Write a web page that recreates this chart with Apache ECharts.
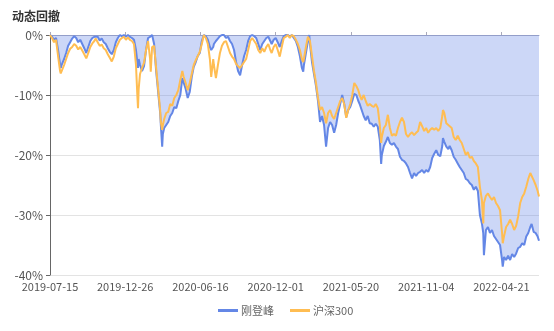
<!DOCTYPE html>
<html><head><meta charset="utf-8">
<script src="https://cdn.jsdelivr.net/npm/echarts@6/dist/echarts.min.js"></script>
<style>html,body{margin:0;padding:0;background:#fff}#c{width:554px;height:331px}</style>
</head><body><div id="c"></div>
<script>
// Trading calendar
const startDate = [2019, 6, 15];
const dayCount = 729;
const holidays = ['2019-09-13','2019-10-01','2019-10-02','2019-10-03','2019-10-04','2019-10-07',
'2020-01-01','2020-01-24','2020-01-27','2020-01-28','2020-01-29','2020-01-30','2020-01-31','2020-04-06',
'2020-05-01','2020-05-04','2020-05-05','2020-06-25','2020-06-26','2020-10-01','2020-10-02','2020-10-05',
'2020-10-06','2020-10-07','2020-10-08','2021-01-01','2021-02-11','2021-02-12','2021-02-15','2021-02-16',
'2021-02-17','2021-04-05','2021-05-03','2021-05-04','2021-05-05','2021-06-14','2021-09-20','2021-09-21',
'2021-10-01','2021-10-04','2021-10-05','2021-10-06','2021-10-07','2022-01-03','2022-01-31','2022-02-01',
'2022-02-02','2022-02-03','2022-02-04','2022-04-04','2022-04-05','2022-05-02','2022-05-03','2022-05-04','2022-06-03'];
const tickLabels = ['2019-07-15','2019-12-26','2020-06-16','2020-12-01','2021-05-20','2021-11-04','2022-04-21'];
const seriesNames = ['刚登峰', '沪深300'];

// sample points: trading-day number, drawdown (%)
const sampleDay = [0,3,6,9,12,15,16,18,21,24,27,30,33,36,39,42,45,48,51,54,57,60,63,66,68,71,74,77,80,83,86,89,92,95,98,101,104,107,110,113,116,119,122,125,128,130,131,132,134,137,140,143,146,149,150,152,155,158,161,164,165,167,168,170,173,176,179,182,185,188,191,194,197,199,202,205,208,211,214,217,220,223,226,229,232,235,238,240,241,243,244,247,250,253,256,259,262,265,268,271,274,277,280,283,286,289,292,295,298,301,304,307,310,313,316,319,322,325,328,330,333,336,339,342,345,348,351,354,357,360,363,366,369,372,375,377,378,381,384,386,387,390,393,396,399,402,405,408,411,414,417,420,423,426,429,432,435,438,441,444,447,450,453,456,459,461,464,467,470,473,476,479,482,485,488,491,493,494,497,500,503,506,509,512,515,518,521,524,527,530,533,536,539,542,545,548,551,554,557,560,563,566,569,572,575,578,581,584,585,587,590,593,595,598,601,604,607,610,613,616,619,622,625,628,631,634,637,640,643,645,646,649,652,655,658,661,664,667,670,673,674,676,679,682,685,688,691,694,697,700,703,706,709,712,715,717,720,723,726,728];
const gdf = [0,-0.3,-0.8,-0.5,-2.5,-5.0,-5.5,-4.8,-4.0,-3.0,-1.8,-1.2,-0.6,-0.2,-0.5,-1.2,-0.8,-1.5,-2.2,-3.0,-2.0,-1.0,-0.5,-0.3,0,-0.3,-0.9,-0.6,-1.2,-1.5,-2.2,-2.8,-3.2,-2.5,-1.2,-0.5,0,-0.2,0,-0.3,0,-0.3,-0.5,-0.8,-2.5,-4.5,-5.5,-4.0,-5.0,-6.0,-5.2,-2.5,-0.5,-0.3,0,0,-1.5,-6.0,-9.5,-13.0,-15.0,-18.6,-16.5,-15.5,-15.0,-14.5,-13.5,-13.0,-12.0,-12.2,-11.0,-10.0,-7.2,-7.5,-9.0,-10.5,-9.5,-7.0,-5.3,-4.5,-3.5,-3.0,-1.0,0,-0.2,-0.8,-2.0,-2.5,-2.5,-2.0,-1.5,-1.0,-0.6,-0.2,0,0,-0.5,-0.3,-1.0,-1.5,-2.5,-4.5,-6.0,-6.7,-5.0,-3.5,-2.5,-1.0,-0.2,0,-0.2,-0.5,-1.5,-2.5,-1.5,-1.0,-0.5,-0.3,-1.0,-1.5,-0.8,-0.5,-1.2,-2.0,-1.0,-0.2,0,0,-0.3,0,-0.5,-1.0,-2.0,-3.5,-5.5,-6.1,-5.0,-3.0,-1.0,0,-1.5,-4.5,-6.5,-8.5,-11.0,-14.5,-13.5,-15.0,-18.6,-15.5,-14.5,-15.0,-16.3,-15.0,-13.0,-11.5,-10.0,-11.5,-13.7,-12.5,-12.0,-11.0,-9.8,-10.0,-11.0,-11.5,-12.5,-13.5,-14.2,-13.5,-14.7,-14.8,-15.3,-14.8,-15.3,-17.5,-21.5,-20.0,-18.5,-17.8,-17.0,-18.0,-18.3,-18.0,-18.6,-19.0,-20.3,-20.8,-21.0,-21.4,-22.0,-23.0,-23.9,-23.0,-23.5,-23.0,-22.8,-22.5,-23.0,-22.5,-22.8,-22.0,-20.5,-19.8,-19.2,-20.0,-20.2,-18.5,-17.2,-17.8,-18.6,-19.0,-18.5,-19.2,-20.3,-20.8,-21.4,-22.0,-22.5,-23.0,-24.0,-24.2,-24.7,-25.0,-25.8,-25.3,-26.0,-30.0,-31.4,-33.0,-36.7,-32.5,-32.0,-33.0,-32.5,-33.5,-34.0,-34.5,-35.0,-37.5,-38.6,-37.0,-37.5,-36.8,-37.5,-36.5,-37.0,-36.4,-35.5,-35.3,-34.7,-35.0,-33.6,-33.0,-32.0,-31.5,-32.8,-33.0,-33.6,-34.3];
const hs300 = [0,-0.5,-1.2,-0.8,-3.5,-6.0,-6.4,-6.2,-5.0,-4.0,-3.0,-2.3,-2.0,-1.5,-1.8,-2.4,-2.0,-2.6,-3.2,-3.9,-3.0,-2.0,-1.4,-1.0,-0.6,-1.2,-1.8,-1.6,-2.2,-2.5,-3.2,-3.8,-4.4,-3.6,-2.2,-1.5,-0.8,-0.5,-0.3,-0.8,-0.4,-0.8,-1.0,-1.5,-5.0,-10.0,-12.2,-9.0,-6.5,-5.5,-4.6,-2.5,-1.0,-4.0,-6.1,-2.0,-1.8,-5.5,-9.0,-12.5,-14.5,-15.8,-15.0,-14.0,-13.0,-12.8,-11.5,-11.8,-10.5,-10.0,-9.2,-7.5,-6.0,-7.0,-8.0,-9.2,-8.0,-6.5,-5.0,-4.2,-3.5,-2.8,-1.5,0,-0.5,-1.5,-4.0,-7.0,-6.7,-4.0,-5.0,-7.2,-5.0,-3.0,-1.8,-1.2,-1.0,-2.0,-3.0,-3.6,-4.0,-4.8,-5.2,-5.5,-5.0,-4.5,-4.0,-2.5,-1.0,-0.5,-1.0,-1.5,-2.5,-3.0,-2.2,-2.8,-2.0,-1.5,-2.5,-3.0,-2.0,-1.5,-2.5,-3.6,-2.0,-0.5,-0.3,0,-0.5,0,-0.2,-0.8,-1.5,-2.5,-4.0,-4.5,-4.0,-2.0,-0.3,0,-1.0,-3.5,-6.0,-8.0,-10.5,-12.5,-12.0,-13.0,-14.7,-13.0,-12.5,-13.5,-14.0,-13.0,-12.0,-11.0,-10.5,-11.5,-13.8,-12.5,-11.5,-10.0,-8.0,-8.5,-9.2,-10.0,-10.8,-10.0,-11.0,-11.8,-11.5,-11.8,-12.0,-11.5,-12.2,-15.0,-18.0,-17.0,-15.5,-15.0,-13.3,-15.5,-16.8,-16.5,-16.8,-15.5,-14.5,-13.8,-14.5,-16.5,-17.0,-16.5,-16.2,-16.7,-16.3,-16.0,-14.5,-15.2,-16.0,-15.5,-16.3,-15.8,-15.5,-15.8,-15.5,-16.0,-15.5,-13.5,-12.5,-13.0,-14.7,-15.0,-14.8,-15.5,-17.0,-17.5,-16.8,-17.5,-18.0,-19.0,-20.0,-19.5,-20.5,-20.3,-21.0,-21.4,-22.0,-25.3,-27.5,-31.4,-28.0,-26.8,-26.4,-27.0,-27.5,-27.0,-28.0,-28.5,-29.2,-33.0,-34.7,-33.5,-32.0,-31.5,-30.8,-31.5,-32.5,-31.8,-30.2,-28.0,-27.0,-26.4,-25.3,-24.0,-23.0,-22.8,-24.2,-25.0,-26.0,-26.9];

const dates = [];
const cur = new Date(Date.UTC(startDate[0], startDate[1], startDate[2]));
while (dates.length < dayCount) {
  const wd = cur.getUTCDay();
  const s = cur.toISOString().slice(0, 10);
  if (wd !== 0 && wd !== 6 && holidays.indexOf(s) < 0) dates.push(s);
  cur.setUTCDate(cur.getUTCDate() + 1);
}
const showTick = (i, v) => tickLabels.indexOf(v) >= 0;

const chart = echarts.init(document.getElementById('c'), null, {renderer: 'canvas'});
const FONT = "'Noto Sans CJK SC', 'Noto Sans', sans-serif";
chart.setOption({
  animation: false,
  textStyle: {fontFamily: FONT},
  title: {text: '动态回撤', left: 7, top: 5, textStyle: {fontSize: 12, fontWeight: 'bold', color: '#333', fontFamily: FONT}},
  legend: {
    bottom: 10, left: 213, itemWidth: 20, itemHeight: 3, itemGap: 16, icon: 'rect',
    textStyle: {color: '#666', fontSize: 11, padding: [0, 0, 0, -2]},
    data: seriesNames
  },
  grid: {left: 50, right: 15, top: 35, bottom: 56, containLabel: false},
  xAxis: [{
    type: 'category', data: dates, boundaryGap: false, position: 'bottom',
    axisLine: {show: false, onZero: false}, axisTick: {show: false},
    axisLabel: {interval: showTick, color: '#555', fontSize: 11, margin: 6}
  }, {
    type: 'category', data: dates, boundaryGap: false, position: 'top',
    axisLine: {show: true, onZero: false, lineStyle: {color: '#aab'}},
    axisTick: {show: true, interval: showTick, length: 3, lineStyle: {color: '#aab'}},
    axisLabel: {show: false}
  }],
  yAxis: {
    type: 'value', min: -40, max: 0, interval: 10,
    axisLine: {show: true, lineStyle: {color: '#666'}},
    axisTick: {show: true, length: 4, lineStyle: {color: '#666'}},
    axisLabel: {formatter: '{value}%', color: '#555', fontSize: 12, margin: 7},
    splitLine: {lineStyle: {color: '#e3e3e3'}}
  },
  series: [{
    name: seriesNames[0], type: 'line', xAxisIndex: 0, symbol: 'none',
    data: sampleDay.map((k, i) => [k, gdf[i]]),
    lineStyle: {width: 2, color: '#6487e6'}, itemStyle: {color: '#6487e6'},
    areaStyle: {color: '#6487e6', opacity: 0.33}
  }, {
    name: seriesNames[1], type: 'line', xAxisIndex: 0, symbol: 'none',
    data: sampleDay.map((k, i) => [k, hs300[i]]),
    lineStyle: {width: 2, color: '#ffbd52'}, itemStyle: {color: '#ffbd52'}
  }]
});
</script></body></html>
